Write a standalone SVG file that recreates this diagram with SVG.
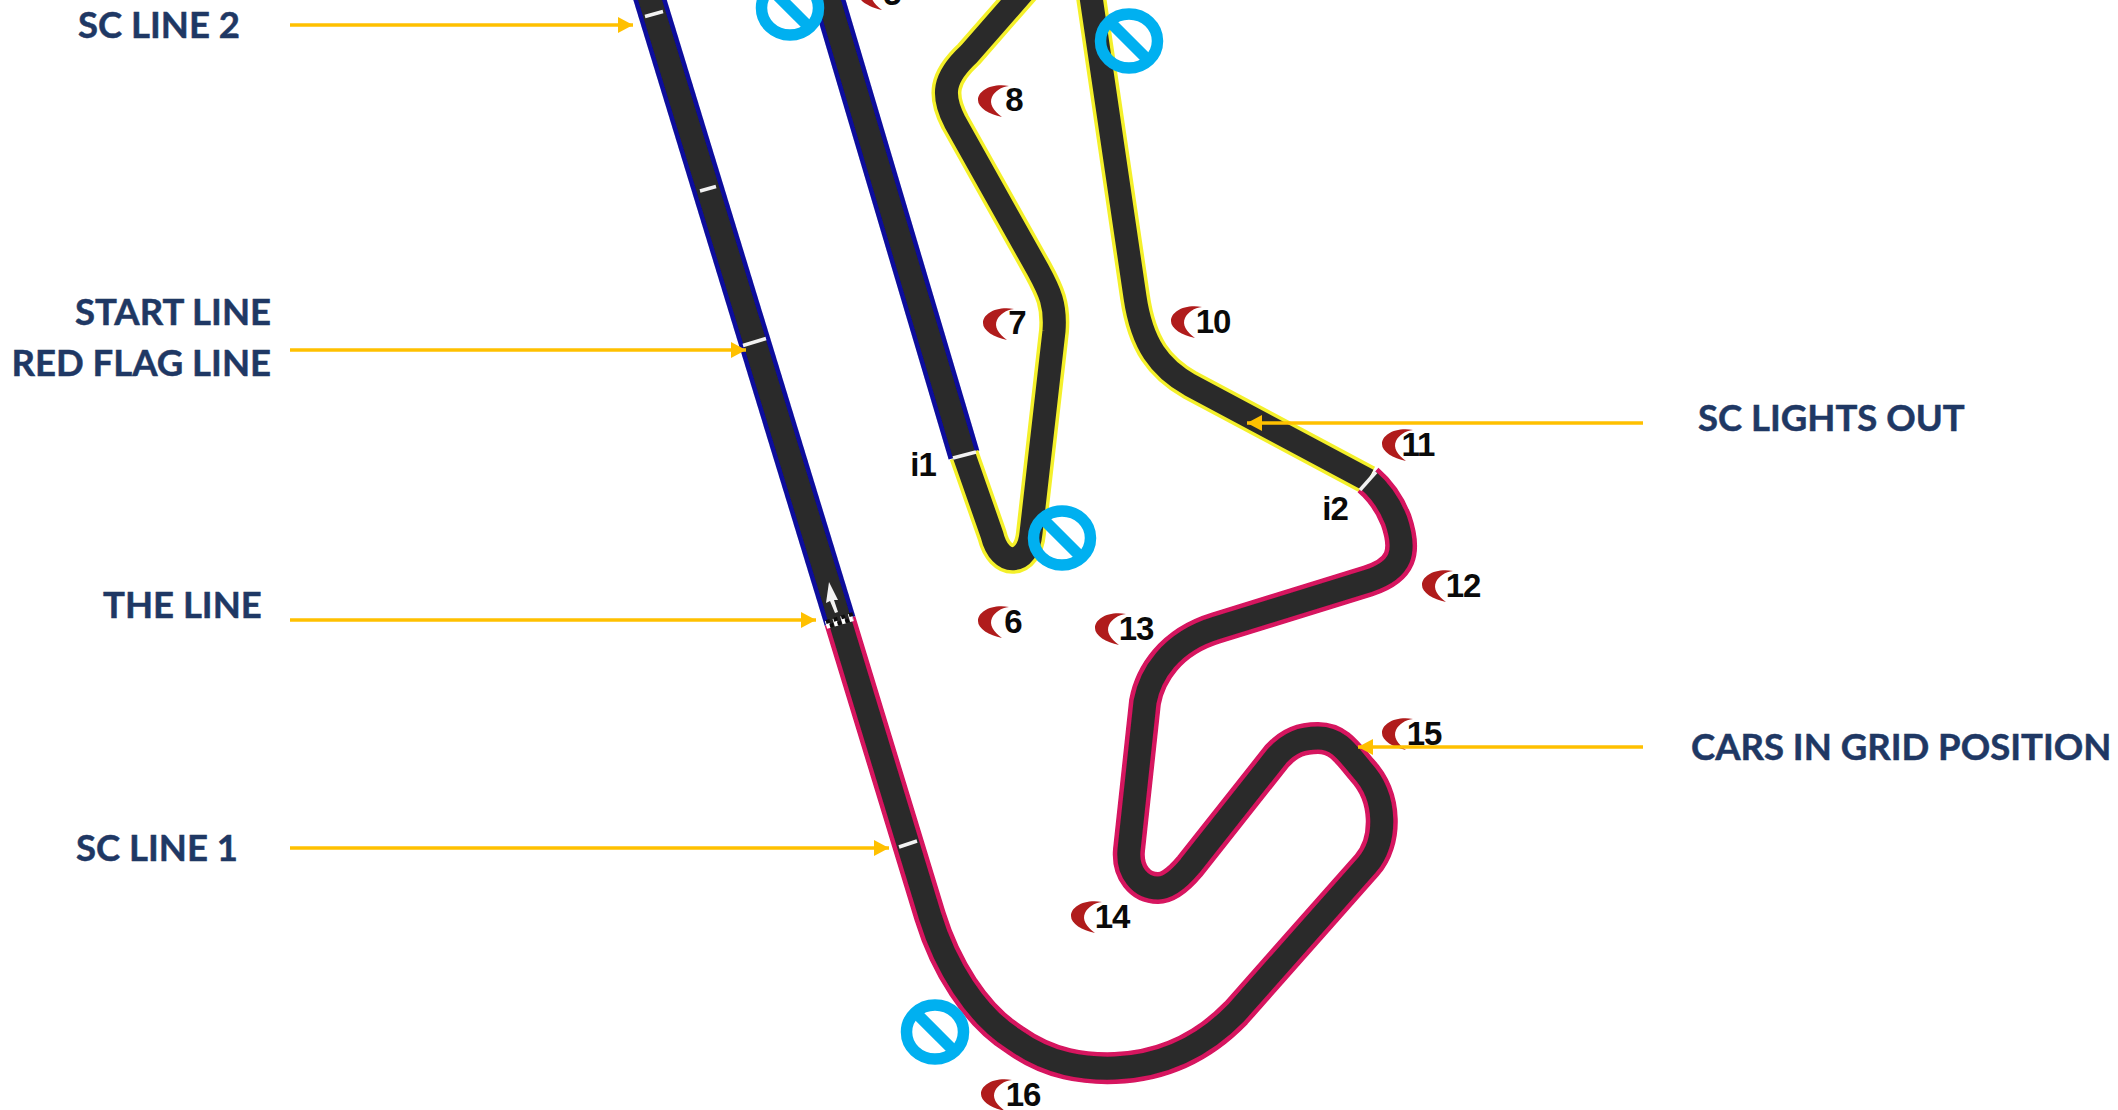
<svg xmlns="http://www.w3.org/2000/svg" width="2118" height="1110" viewBox="0 0 2118 1110">
<style>
.o{fill:none;stroke-width:32;stroke-linejoin:round}
.y{fill:none;stroke-width:30;stroke-linejoin:round}
.d{fill:none;stroke:#2b2a29;stroke-width:23;stroke-linejoin:round}
.t{stroke:#f2f2f2;stroke-width:3.5;fill:none}
.l{font-family:Lato,"Liberation Sans",sans-serif;font-weight:700;font-size:36.500px;fill:#1f3864;stroke:#1f3864;stroke-width:.5}
.n{font-family:"Liberation Sans",Arial,sans-serif;font-weight:700;font-size:33px;letter-spacing:-1px;fill:#0a0a0a;text-anchor:middle}
.a{stroke:#ffc000;stroke-width:3.5;fill:none;marker-end:url(#ah)}
.c{fill:#b01c1c}
.ring{fill:none;stroke:#00b0f0;stroke-width:11.5}
</style>
<defs>
<marker id="ah" markerUnits="userSpaceOnUse" markerWidth="16" markerHeight="18" refX="15" refY="8" orient="auto"><path d="M0 0L15 8L0 16Z" fill="#ffc000"/></marker>
<path id="cr" d="M31-14C13-17 0-9 0 0C0 8 11 14 24 17C15 10 11 4 14-3C17-9 23-13 31-14Z"/>
<g id="no"><ellipse class="ring" rx="28.5" ry="27"/><path d="M-21-21L21 21" stroke="#00b0f0" stroke-width="11.5"/></g>
<filter id="soft" x="-5%" y="-5%" width="110%" height="110%"><feGaussianBlur stdDeviation="0.7"/></filter>
</defs>
<rect width="2118" height="1110" fill="#fff"/>
<g id="track" filter="url(#soft)">
<g stroke="#0a0a9c">
<path class="o" d="M647-10L840 621"/>
<path class="o" d="M826-10L964 455"/>
</g>
<g stroke="#f4f02c">
<path class="y" d="M964 455L992 535C1000 568 1028 566 1031 533L1054 331C1056 305 1050 292 1038 270L955 122C941 95 943 78 969 54L1025-10"/>
<path class="y" d="M1368 480L1190 385C1160 368 1142 345 1135 297L1090-10"/>
</g>
<path class="o" stroke="#d6125e" d="M840 621L930 916C945 965 975 1015 1015 1040C1050 1065 1085 1069 1115 1068C1165 1066 1205 1045 1236 1013L1367 865C1387 842 1388 798 1362 770C1347 752 1338 738 1318 738C1302 738 1290 742 1277 756L1190 866C1175 884 1165 888 1158 888C1140 888 1127 872 1129 850L1145 702C1150 675 1170 642 1216 628L1368 581C1402 570 1407 552 1396 520C1390 505 1382 492 1368 480"/>
<path class="d" d="M647-10L840 621"/>
<path class="d" d="M826-10L964 455"/>
<path class="d" d="M964 455L992 535C1000 568 1028 566 1031 533L1054 331C1056 305 1050 292 1038 270L955 122C941 95 943 78 969 54L1025-10"/>
<path class="d" d="M1368 480L1190 385C1160 368 1142 345 1135 297L1090-10"/>
<path class="d" d="M840 621L930 916C945 965 975 1015 1015 1040C1050 1065 1085 1069 1115 1068C1165 1066 1205 1045 1236 1013L1367 865C1387 842 1388 798 1362 770C1347 752 1338 738 1318 738C1302 738 1290 742 1277 756L1190 866C1175 884 1165 888 1158 888C1140 888 1127 872 1129 850L1145 702C1150 675 1170 642 1216 628L1368 581C1402 570 1407 552 1396 520C1390 505 1382 492 1368 480"/>
<path class="t" d="M645 16.500L663 11.500"/>
<path class="t" d="M700 191L716 186.500"/>
<path class="t" d="M743 345.500L766 338.500"/>
<path class="t" d="M899 847L917 841"/>
<path class="t" d="M953 458L976 452"/>
<path class="t" d="M1360 490L1376 472"/>
<path d="M826 625L853 617" stroke="#fff" stroke-width="8" stroke-dasharray="4 4" fill="none"/>
<path d="M826 622L853 614" stroke="#111" stroke-width="4" stroke-dasharray="4 4" fill="none"/>
<path d="M826 627L853 619" stroke="#111" stroke-width="4" stroke-dasharray="4 4" stroke-dashoffset="4" fill="none"/>
<path d="M829 582L838 600L834 600L838 612L835 613L830 601L826 603Z" fill="#f4f4f4"/>
</g>
<g id="turns">
<g id="t5"><use href="#cr" class="c" x="858" y="-7"/><text class="n" x="892" y="5">5</text></g>
<g id="t6"><use href="#cr" class="c" x="978" y="621"/><text class="n" x="1013" y="633">6</text></g>
<g id="t7"><use href="#cr" class="c" x="983" y="323"/><text class="n" x="1017" y="334">7</text></g>
<g id="t8"><use href="#cr" class="c" x="978" y="100"/><text class="n" x="1014" y="111">8</text></g>
<g id="t10"><use href="#cr" class="c" x="1171" y="321"/><text class="n" x="1213" y="333">10</text></g>
<g id="t11"><use href="#cr" class="c" x="1382" y="444"/><text class="n" x="1418" y="456">11</text></g>
<g id="t12"><use href="#cr" class="c" x="1422" y="585"/><text class="n" x="1463" y="597">12</text></g>
<g id="t13"><use href="#cr" class="c" x="1095" y="628"/><text class="n" x="1136" y="640">13</text></g>
<g id="t14"><use href="#cr" class="c" x="1071" y="916"/><text class="n" x="1112" y="928">14</text></g>
<g id="t15"><use href="#cr" class="c" x="1382" y="733"/><text class="n" x="1424" y="745">15</text></g>
<g id="t16"><use href="#cr" class="c" x="981" y="1094"/><text class="n" x="1023" y="1106">16</text></g>
<text id="i1" class="n" x="923" y="476">i1</text>
<text id="i2" class="n" x="1335" y="520">i2</text>
</g>
<g id="no-entry">
<use href="#no" x="790" y="8"/>
<use href="#no" x="1129" y="41"/>
<use href="#no" x="1062" y="538"/>
<use href="#no" x="935" y="1032"/>
</g>
<g id="connectors">
<path class="a" d="M290 25H633"/>
<path class="a" d="M290 350H746"/>
<path class="a" d="M290 620H816"/>
<path class="a" d="M290 848H889"/>
<path class="a" d="M1643 423H1247"/>
<path class="a" d="M1643 747H1358"/>
</g>
<g id="labels">
<text id="l1" class="l" x="78" y="38">SC LINE 2</text>
<text id="l2" class="l" x="271" y="325" text-anchor="end">START LINE</text>
<text id="l3" class="l" x="271" y="376" text-anchor="end">RED FLAG LINE</text>
<text id="l4" class="l" x="103" y="618">THE LINE</text>
<text id="l5" class="l" x="76" y="861">SC LINE 1</text>
<text id="l6" class="l" x="1698" y="431">SC LIGHTS OUT</text>
<text id="l7" class="l" x="1691" y="760">CARS IN GRID POSITION</text>
</g>
</svg>
